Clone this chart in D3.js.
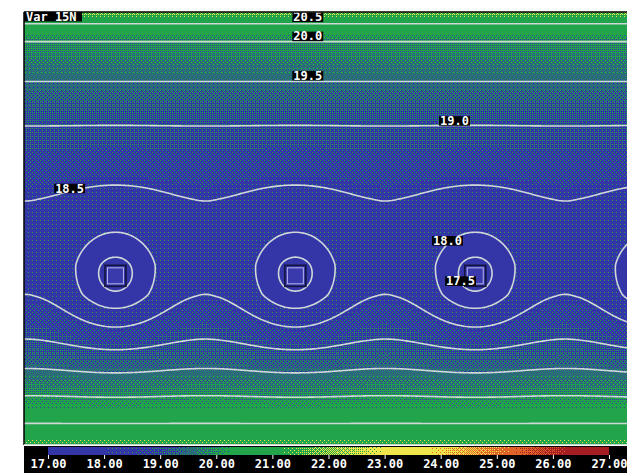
<!DOCTYPE html>
<html>
<head>
<meta charset="utf-8">
<script src="https://cdn.jsdelivr.net/npm/d3@7"></script>
<style>
  body { margin: 0; background: #fff; }
  svg { display: block; }
  text { font-family: "DejaVu Sans Mono", monospace; font-weight: bold; }
</style>
</head>
<body>
<svg id="chart" width="627" height="473"></svg>
<script>
// ---- data -------------------------------------------------------------
const title = 'Var 15N';

// value of the field along the column half way between two lows (row -> value)
const profileRows = [0, 2.1, 4.9, 7.6, 10.5, 14.9, 17.9, 24.3, 31.7, 33.5, 36.1, 40.1, 41.9, 42.4, 43];
const profileVals = [21.6, 20.5, 20.0, 19.5, 19.0, 18.5, 18.42, 18.5, 19.0, 19.2, 19.5, 20.0, 20.5, 21.2, 21.8];

// the row of lows (model grid units)
const lowX = [-8.8, 9.1, 27.0, 44.9, 62.8];
const lowY = 16.8;
const coreDepth = 0.62, coreWidth = 2.3;
const wideDepth = 0.86, wideWidth = 5.0;

// contour levels and where their labels sit
const levels = [17.5, 18.0, 18.5, 19.0, 19.5, 20.0, 20.5];
const labelText = ['20.5', '20.0', '19.5', '19.0', '18.5', '18.0', '17.5'];
const labelX = [26.7, 26.7, 26.7, 41.3, 3.0, 40.6, 41.9];
const labelY = [42.5, 40.6, 36.7, 32.2, 25.5, 20.3, 16.3];

// colour bar: palette, and where along it each value falls
const colorHex = ['#3436a8', '#3436a8', '#22a44a', '#22a44a', '#f0e64c', '#f0e64c', '#e0642a', '#a51c22', '#a51c22'];
const colorStops = [17, 17.5, 18.0, 18.5, 19.0, 19.5, 20.0, 20.3, 21.1, 23.0, 23.8, 25.3, 26.3, 27];
const colorPos = [0, 1, 1.03, 1.07, 1.2, 1.46, 1.8, 2, 3, 4, 5, 6, 7, 8];
const colorTicks = [17, 18, 19, 20, 21, 22, 23, 24, 25, 26, 27];

// ---- layout -----------------------------------------------------------
const width = 627, height = 473;
const plot = { left: 24, right: 627, top: 12, bottom: 445 };
const bar = { left: 48, right: 609, top: 447, bottom: 455 };

const xScale = d3.scaleLinear().domain([0, 60]).range([plot.left, plot.right]);
const yScale = d3.scaleLinear().domain([0, 43]).range([plot.bottom, plot.top]);
const cbScale = d3.scaleLinear().domain([17, 27]).range([bar.left, bar.right]);

const profile = d3.scaleLinear().domain(profileRows).range(profileVals).clamp(true);

function dip(x, y) {
  let s = 0;
  for (const cx of lowX) {
    const r2 = (x - cx) ** 2 + (y - lowY) ** 2;
    s += coreDepth * Math.exp(-r2 / (2 * coreWidth ** 2))
       + wideDepth * Math.exp(-r2 / (2 * wideWidth ** 2));
  }
  return s;
}
const midX = (lowX[1] + lowX[2]) / 2;
function field(x, y) {
  return profile(y) + dip(midX, y) - dip(x, y);
}

// ordered dither between neighbouring palette entries
const colorIndex = d3.scaleLinear().domain(colorStops).range(colorPos).clamp(true);
const palette = colorHex.map(c => d3.rgb(c));
const bayer = [[0, 8, 2, 10], [12, 4, 14, 6], [3, 11, 1, 9], [15, 7, 13, 5]];
function ditherColor(v, px, py) {
  const k = colorIndex(v);
  const i = Math.min(Math.floor(k), palette.length - 2);
  const t = k - i;
  const th = (bayer[py & 3][px & 3] + 0.5) / 16;
  return t > th ? palette[i + 1] : palette[i];
}

function rasterImage(w, h, x0, y0, valueAt) {
  const canvas = document.createElement('canvas');
  canvas.width = w; canvas.height = h;
  const ctx = canvas.getContext('2d');
  const img = ctx.createImageData(w, h);
  for (let j = 0; j < h; j++) {
    for (let i = 0; i < w; i++) {
      const c = ditherColor(valueAt(x0 + i + 0.5, y0 + j + 0.5), x0 + i, y0 + j);
      const o = (j * w + i) * 4;
      img.data[o] = c.r; img.data[o + 1] = c.g; img.data[o + 2] = c.b; img.data[o + 3] = 255;
    }
  }
  ctx.putImageData(img, 0, 0);
  return canvas.toDataURL();
}

const svg = d3.select('#chart');

svg.append('defs').append('clipPath').attr('id', 'plot-clip')
  .append('rect')
  .attr('x', plot.left).attr('y', plot.top)
  .attr('width', plot.right - plot.left).attr('height', plot.bottom - plot.top);

// shaded field
svg.append('image')
  .attr('x', plot.left).attr('y', plot.top)
  .attr('width', plot.right - plot.left).attr('height', plot.bottom - plot.top)
  .style('image-rendering', 'pixelated')
  .attr('href', rasterImage(plot.right - plot.left, plot.bottom - plot.top, plot.left, plot.top,
    (px, py) => field(xScale.invert(px), yScale.invert(py))));

// contour lines
const step = 0.2, gx0 = -1, gy0 = -1;
const nx = Math.ceil(62 / step) + 1, ny = Math.ceil(45 / step) + 1;
const grid = new Float64Array(nx * ny);
for (let j = 0; j < ny; j++)
  for (let i = 0; i < nx; i++)
    grid[j * nx + i] = field(gx0 + i * step, gy0 + j * step);

const contours = d3.contours().size([nx, ny]).thresholds(levels)(grid);
const gridProj = d3.geoTransform({
  point(gx, gy) {
    this.stream.point(xScale(gx0 + (gx - 0.5) * step), yScale(gy0 + (gy - 0.5) * step));
  }
});
const path = d3.geoPath(gridProj);

svg.append('g').attr('clip-path', 'url(#plot-clip)')
  .selectAll('path')
  .data(contours)
  .join('path')
  .attr('d', path)
  .attr('fill', 'none')
  .attr('stroke', '#cfd8d8')
  .attr('stroke-width', 1.6);

// low markers
const markers = svg.append('g').attr('clip-path', 'url(#plot-clip)')
  .selectAll('g')
  .data(lowX.filter(x => xScale(x) > plot.left && xScale(x) < plot.right))
  .join('g')
  .attr('transform', d => `translate(${xScale(d)},${yScale(lowY)})`);
markers.append('rect')
  .attr('x', -10.5).attr('y', -10.5).attr('width', 21).attr('height', 21)
  .attr('fill', '#3636a6').attr('stroke', '#14143e').attr('stroke-width', 1.6);
markers.append('rect')
  .attr('x', -8).attr('y', -8).attr('width', 16).attr('height', 16)
  .attr('fill', '#3a3aac').attr('stroke', '#b4b4ee').attr('stroke-width', 1);

// contour labels
const labels = svg.append('g')
  .selectAll('g')
  .data(labelText.map((t, i) => ({ t, x: labelX[i], y: labelY[i] })))
  .join('g')
  .attr('transform', d => `translate(${xScale(d.x)},${yScale(d.y)})`);
labels.append('text')
  .attr('x', 1).attr('y', 4.3)
  .attr('fill', '#fff').attr('font-size', 12)
  .text(d => d.t);
labels.insert('rect', 'text')
  .each(function() {
    const bb = this.nextSibling.getBBox();
    d3.select(this).attr('x', 0).attr('y', -4.5)
      .attr('width', bb.width + 2).attr('height', 9.5);
  })
  .attr('fill', '#000');

// frame
svg.append('line')
  .attr('x1', plot.left).attr('x2', plot.right).attr('y1', plot.top).attr('y2', plot.top)
  .attr('stroke', '#000').attr('stroke-width', 1.5);
svg.append('line')
  .attr('x1', plot.left).attr('x2', plot.left).attr('y1', plot.top).attr('y2', plot.bottom)
  .attr('stroke', '#000').attr('stroke-width', 1.5);
svg.append('line')
  .attr('x1', plot.left).attr('x2', plot.right).attr('y1', plot.bottom - 0.5).attr('y2', plot.bottom - 0.5)
  .attr('stroke', '#c8d4c8').attr('stroke-width', 1);

// title tag
const head = svg.append('g').attr('transform', `translate(${plot.left},${plot.top})`);
head.append('rect').attr('width', 58).attr('height', 9.5).attr('fill', '#000');
head.append('text').attr('x', 2).attr('y', 8.5)
  .attr('fill', '#fff').attr('font-size', 12).text(title);

// colour bar
svg.append('rect')
  .attr('x', plot.left).attr('y', plot.bottom + 1)
  .attr('width', plot.right - plot.left).attr('height', height - plot.bottom - 1)
  .attr('fill', '#000');
svg.append('image')
  .attr('x', bar.left).attr('y', bar.top)
  .attr('width', bar.right - bar.left).attr('height', bar.bottom - bar.top)
  .style('image-rendering', 'pixelated')
  .attr('href', rasterImage(bar.right - bar.left, bar.bottom - bar.top, bar.left, bar.top,
    px => cbScale.invert(px)));

const cbAxis = svg.append('g')
  .attr('transform', `translate(0,${bar.bottom})`)
  .call(d3.axisBottom(cbScale).tickValues(colorTicks).tickFormat(d3.format('.2f'))
    .tickSize(4).tickPadding(0));
cbAxis.select('.domain').remove();
cbAxis.selectAll('line').attr('stroke', '#fff');
cbAxis.selectAll('text')
  .attr('fill', '#fff')
  .attr('font-size', 12)
  .attr('font-family', '"DejaVu Sans Mono", monospace')
  .attr('font-weight', 'bold');
</script>
</body>
</html>
